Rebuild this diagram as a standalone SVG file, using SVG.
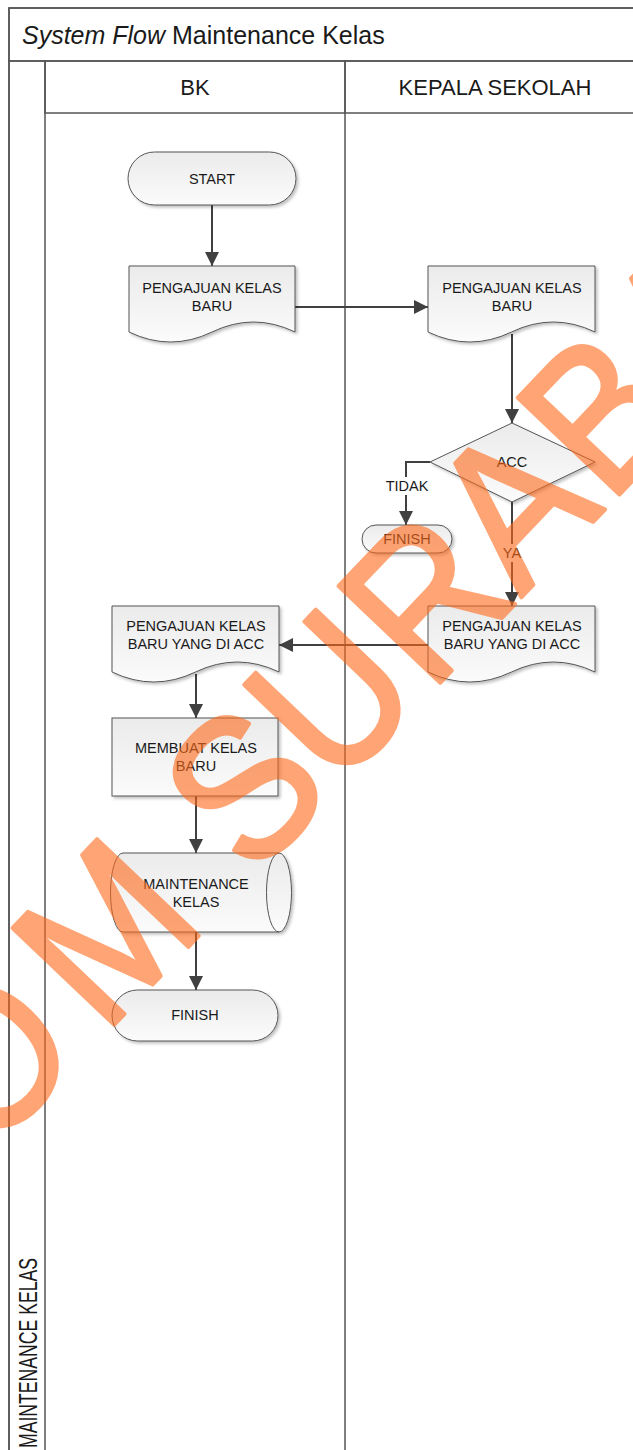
<svg xmlns="http://www.w3.org/2000/svg" width="633" height="1450" viewBox="0 0 633 1450">
<style>
.lane{fill:none;stroke:#555;stroke-width:1.5}
.node{stroke:#555;stroke-width:1;fill:url(#nodeGrad);filter:url(#shadow)}
.t{font-family:"Liberation Sans",Arial,sans-serif;font-size:14.5px;fill:#1a1a1a;text-anchor:middle}
.hdr{font-family:"Liberation Sans",Arial,sans-serif;font-size:22px;fill:#1a1a1a;text-anchor:middle}
.conn{fill:none;stroke:#404040;stroke-width:2}
.lbl{fill:#fff}
.wm{font-family:"Liberation Sans",Arial,sans-serif;font-size:204px;fill:#ff6a1a;stroke:#ff6a1a;stroke-width:4;stroke-linejoin:round}
</style>
<defs>
<linearGradient id="nodeGrad" x1="0" y1="0" x2="0" y2="1">
<stop offset="0" stop-color="#ebebeb"/>
<stop offset="1" stop-color="#fbfbfb"/>
</linearGradient>
<linearGradient id="barGrad" x1="0" y1="0" x2="0" y2="1">
<stop offset="0" stop-color="#fbfbfb"/>
<stop offset="1" stop-color="#ececec"/>
</linearGradient>
<linearGradient id="sideGrad" x1="0" y1="0" x2="1" y2="0">
<stop offset="0" stop-color="#fdfdfd"/>
<stop offset="1" stop-color="#ececec"/>
</linearGradient>
<filter id="shadow" x="-10%" y="-10%" width="130%" height="130%">
<feDropShadow dx="2" dy="2" stdDeviation="1.5" flood-color="#000" flood-opacity="0.25"/>
</filter>
<marker id="arr" markerUnits="userSpaceOnUse" markerWidth="14" markerHeight="14" viewBox="0 0 12 12" refX="12" refY="6" orient="auto">
<path d="M0,0 L12,6 L0,12 z" fill="#404040"/>
</marker>
</defs>

<g id="pool">
<rect x="9" y="8" width="700" height="1460" fill="#fff" class="lane"/>
<rect x="9" y="8" width="700" height="53" fill="url(#barGrad)" class="lane"/>
<rect x="9" y="61" width="36" height="1400" fill="url(#sideGrad)" class="lane"/>
<rect x="45" y="61" width="300" height="52" fill="url(#barGrad)" class="lane"/>
<rect x="345" y="61" width="364" height="52" fill="url(#barGrad)" class="lane"/>
<line x1="345" y1="113" x2="345" y2="1460" class="lane"/>
<text x="22" y="44" font-family="'Liberation Sans',Arial,sans-serif" font-size="25" fill="#1a1a1a"><tspan font-style="italic">System Flow</tspan> Maintenance Kelas</text>
<text x="195" y="95" class="hdr">BK</text>
<text x="495" y="95" class="hdr">KEPALA SEKOLAH</text>
<text transform="translate(37,1448) rotate(-90)" x="0" y="0" font-family="'Liberation Sans',Arial,sans-serif" font-size="25" fill="#1a1a1a" textLength="190" lengthAdjust="spacingAndGlyphs">MAINTENANCE KELAS</text>
</g>

<g id="connectors">
<line x1="212" y1="205" x2="212" y2="266" class="conn" marker-end="url(#arr)"/>
<line x1="295" y1="307" x2="428" y2="307" class="conn" marker-end="url(#arr)"/>
<line x1="512" y1="334" x2="512" y2="423" class="conn" marker-end="url(#arr)"/>
<polyline points="430,462 406,462 406,525" class="conn" marker-end="url(#arr)"/>
<line x1="512" y1="502" x2="512" y2="606" class="conn" marker-end="url(#arr)"/>
<line x1="428" y1="645" x2="279" y2="645" class="conn" marker-end="url(#arr)"/>
<line x1="196" y1="674" x2="196" y2="718" class="conn" marker-end="url(#arr)"/>
<line x1="196" y1="796" x2="196" y2="853" class="conn" marker-end="url(#arr)"/>
<line x1="196" y1="932" x2="196" y2="990" class="conn" marker-end="url(#arr)"/>
<rect x="384" y="477" width="46" height="18" class="lbl"/>
<text x="407" y="491" class="t">TIDAK</text>
<rect x="500" y="544" width="24" height="18" class="lbl"/>
<text x="512" y="558" class="t">YA</text>
</g>

<g id="start">
<rect x="128" y="152" width="168" height="53" rx="26.5" class="node"/>
<text x="212" y="184" class="t">START</text>
</g>

<g id="doc-pengajuan-bk">
<path d="M129,266 H295 V332 Q253.5,312 212,332 T129,332 Z" class="node"/>
<text x="212" y="293" class="t">PENGAJUAN KELAS</text>
<text x="212" y="311" class="t">BARU</text>
</g>

<g id="doc-pengajuan-ks">
<path d="M428,266 H595 V332 Q553.25,312 511.5,332 T428,332 Z" class="node"/>
<text x="512" y="293" class="t">PENGAJUAN KELAS</text>
<text x="512" y="311" class="t">BARU</text>
</g>

<g id="decision-acc">
<polygon points="512,423 595,462 512,502 430,462" class="node"/>
<text x="512" y="467" class="t">ACC</text>
</g>

<g id="finish-tidak">
<rect x="362" y="525" width="90" height="28" rx="14" class="node"/>
<text x="407" y="544" class="t">FINISH</text>
</g>

<g id="doc-acc-ks">
<path d="M428,606 H595 V672 Q553.25,652 511.5,672 T428,672 Z" class="node"/>
<text x="512" y="631" class="t">PENGAJUAN KELAS</text>
<text x="512" y="649" class="t">BARU YANG DI ACC</text>
</g>

<g id="doc-acc-bk">
<path d="M112,606 H279 V672 Q237.25,652 195.5,672 T112,672 Z" class="node"/>
<text x="196" y="631" class="t">PENGAJUAN KELAS</text>
<text x="196" y="649" class="t">BARU YANG DI ACC</text>
</g>

<g id="process-membuat">
<rect x="112" y="718" width="166" height="78" class="node"/>
<text x="196" y="753" class="t">MEMBUAT KELAS</text>
<text x="196" y="771" class="t">BARU</text>
</g>

<g id="storage-maintenance">
<path d="M123,853 H279 A12.5,39.5 0 0 1 279,932 H123 A12.5,39.5 0 0 1 123,853 Z" class="node"/>
<path d="M279,853 A12.5,39.5 0 0 0 279,932" fill="none" stroke="#555" stroke-width="1"/>
<text x="196" y="889" class="t">MAINTENANCE</text>
<text x="196" y="907" class="t">KELAS</text>
</g>

<g id="finish">
<rect x="112" y="990" width="166" height="51" rx="25.5" class="node"/>
<text x="195" y="1020" class="t">FINISH</text>
</g>

<g id="watermark" opacity="0.6">
<text transform="translate(-283,1442) rotate(-46.4) scale(0.9,1)" x="-10.2 114.9 242 299.8 437.4 623.2 800 862.8 997.4 1148.2 1295.3 1437 1578.7 1713.1 1847.6" y="0" class="wm">STIKOM SURABAYA</text>
</g>
</svg>
